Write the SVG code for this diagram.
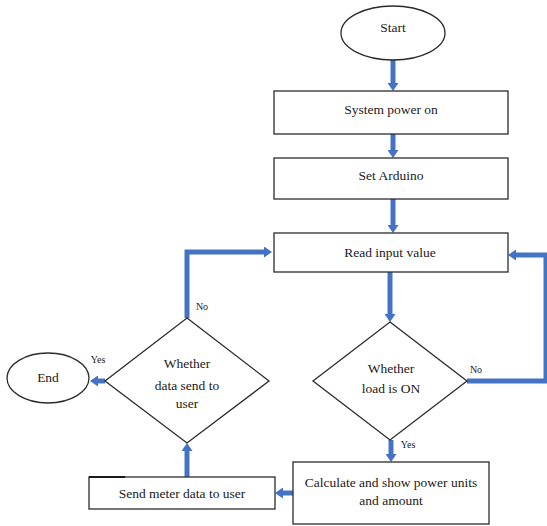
<svg xmlns="http://www.w3.org/2000/svg" width="547" height="526" viewBox="0 0 547 526">
<style>
.box{fill:#fff;stroke:#2b2b2b;stroke-width:1.3}
.t{font-family:"Liberation Serif","Times New Roman",serif;font-size:13.5px;fill:#1a1a1a;text-anchor:middle}
.lbl{font-family:"Liberation Serif","Times New Roman",serif;font-size:10px;fill:#1a1a1a;text-anchor:middle}
.c{fill:none;stroke:#4472C4;stroke-width:5;stroke-linejoin:miter}
</style>
<defs>
<marker id="ah" viewBox="0 0 10 10" refX="0" refY="5" markerUnits="userSpaceOnUse" markerWidth="8" markerHeight="11" orient="auto" preserveAspectRatio="none">
<path d="M0,0 L10,5 L0,10 z" fill="#4472C4"/>
</marker>
</defs>
<rect width="547" height="526" fill="#fff"/>
<g id="connectors">
<path class="c" d="M393,60 V83" marker-end="url(#ah)"/>
<path class="c" d="M393,134 V150" marker-end="url(#ah)"/>
<path class="c" d="M393,199 V225" marker-end="url(#ah)"/>
<path class="c" d="M390,272 V314" marker-end="url(#ah)"/>
<path class="c" d="M391,440 V454" marker-end="url(#ah)"/>
<path class="c" d="M467,381 H546 V255 H516" marker-end="url(#ah)"/>
<path class="c" d="M293,493 H283" marker-end="url(#ah)"/>
<path class="c" d="M187,477 V451" marker-end="url(#ah)"/>
<path class="c" d="M187,318 V252 H264" marker-end="url(#ah)"/>
<path class="c" d="M105,381 H98" marker-end="url(#ah)"/>
</g>
<g id="start">
<ellipse class="box" cx="393" cy="33" rx="52" ry="27"/>
<text class="t" x="393" y="32">Start</text>
</g>
<g id="power">
<rect class="box" x="274" y="91" width="234" height="43"/>
<text class="t" x="391" y="114">System power on</text>
</g>
<g id="arduino">
<rect class="box" x="274" y="158" width="234" height="41"/>
<text class="t" x="391" y="180">Set Arduino</text>
</g>
<g id="read">
<rect class="box" x="274" y="233" width="234" height="39"/>
<text class="t" x="390" y="257">Read input value</text>
</g>
<g id="load">
<polygon class="box" points="390,322 467,381 390,440 313,381"/>
<text class="t" x="391" y="373">Whether</text>
<text class="t" x="391" y="393">load is ON</text>
<text class="lbl" x="476" y="373">No</text>
<text class="lbl" x="408" y="448">Yes</text>
</g>
<g id="calc">
<rect class="box" x="293" y="462" width="196" height="62"/>
<text class="t" x="391" y="487">Calculate and show power units</text>
<text class="t" x="391" y="505">and amount</text>
</g>
<g id="send">
<rect class="box" x="89" y="477" width="186" height="32"/>
<line x1="89" y1="477" x2="125" y2="477" stroke="#1a1a1a" stroke-width="2"/>
<text class="t" x="182" y="498">Send meter data to user</text>
</g>
<g id="sent">
<polygon class="box" points="187,318 269,381 187,443 105,381"/>
<text class="t" x="187" y="368">Whether</text>
<text class="t" x="187" y="390">data send to</text>
<text class="t" x="187" y="408">user</text>
<text class="lbl" x="202" y="310">No</text>
<text class="lbl" x="98" y="363">Yes</text>
</g>
<g id="end">
<ellipse class="box" cx="48" cy="378" rx="41" ry="25"/>
<text class="t" x="48" y="382">End</text>
</g>
</svg>
